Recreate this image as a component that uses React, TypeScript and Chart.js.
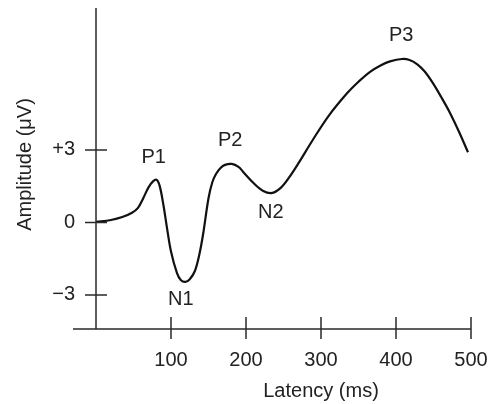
import React, { useEffect, useRef } from "react";
import { Chart, registerables } from "chart.js";

Chart.register(...registerables);

// Latency (ms) and amplitude (µV) of the ERP waveform
const latency = [0, 20, 35, 48, 56, 63, 70, 76, 81, 85, 90, 95, 100, 108, 113, 119, 125, 132, 138, 143, 150, 155, 160, 166, 172, 181, 190, 196, 210, 223, 235, 247, 258, 270, 289, 310, 335, 350, 365, 380, 392, 408, 418, 428, 438, 449, 460, 472, 484, 496];
const amplitude = [0.02, 0.1, 0.22, 0.4, 0.6, 1.0, 1.45, 1.7, 1.76, 1.5, 0.7, -0.3, -1.2, -2.1, -2.38, -2.46, -2.35, -2.0, -1.3, -0.45, 1.0, 1.65, 2.0, 2.25, 2.38, 2.42, 2.3, 2.1, 1.63, 1.3, 1.22, 1.45, 1.88, 2.45, 3.41, 4.4, 5.35, 5.82, 6.22, 6.5, 6.66, 6.76, 6.72, 6.55, 6.25, 5.77, 5.2, 4.53, 3.75, 2.9];

const xTicks = [100, 200, 300, 400, 500];
const yTicks = [-3, 0, 3];
const yTickLabels = ["\u22123", "0", "+3"];

// Component labels and the data coordinates where they are written
const peakNames = ["P1", "N1", "P2", "N2", "P3"];
const peakLabelLatency = [77, 113, 179, 233, 407];
const peakLabelAmplitude = [2.69, -3.2, 3.39, 0.39, 7.72];

const xTitle = "Latency (ms)";
const yTitle = "Amplitude (\u03BCV)";

const FONT = "'Liberation Sans', Arial, Helvetica, sans-serif";
const TEXT = "#222";
const AXIS = "#2a2a2a";

const axesPlugin = {
  id: "erpAxes",
  afterDatasetsDraw(chart: any) {
    const ctx = chart.ctx;
    const xs = chart.scales.x;
    const ys = chart.scales.y;
    const x0 = xs.getPixelForValue(0);
    const yb = ys.bottom;
    ctx.save();
    ctx.strokeStyle = AXIS;
    ctx.lineWidth = 1.5;
    ctx.beginPath();
    ctx.moveTo(x0, ys.top);
    ctx.lineTo(x0, yb);
    ctx.moveTo(x0 - 23, yb);
    ctx.lineTo(xs.getPixelForValue(500), yb);
    for (const v of yTicks) {
      const py = ys.getPixelForValue(v);
      ctx.moveTo(x0 - 11, py);
      ctx.lineTo(x0 + 11, py);
    }
    for (const v of xTicks) {
      const px = xs.getPixelForValue(v);
      ctx.moveTo(px, yb - 12);
      ctx.lineTo(px, yb + 10);
    }
    ctx.stroke();

    ctx.fillStyle = TEXT;
    ctx.font = `20px ${FONT}`;
    ctx.textAlign = "center";
    ctx.textBaseline = "middle";
    peakNames.forEach((n, i) => {
      ctx.fillText(n, xs.getPixelForValue(peakLabelLatency[i]), ys.getPixelForValue(peakLabelAmplitude[i]));
    });

    // axis titles
    ctx.fillText(xTitle, xs.getPixelForValue(300), 391);
    ctx.save();
    ctx.translate(25, (ys.top + ys.bottom) / 2 - 4);
    ctx.rotate(-Math.PI / 2);
    ctx.fillText(yTitle, 0, 0);
    ctx.restore();
    ctx.restore();
  },
};

export default function App() {
  const ref = useRef<HTMLCanvasElement | null>(null);
  useEffect(() => {
    if (!ref.current) return;
    const chart = new Chart(ref.current, {
      type: "line",
      data: {
        datasets: [
          {
            data: latency.map((x, i) => ({ x, y: amplitude[i] })),
            borderColor: "#111",
            borderWidth: 2.2,
            pointRadius: 0,
            fill: false,
            tension: 0.35,
          },
        ],
      },
      options: {
        animation: false,
        responsive: true,
        maintainAspectRatio: false,
        layout: { padding: { top: 8, right: 20, left: 0, bottom: 0 } },
        plugins: { legend: { display: false }, tooltip: { enabled: false } },
        scales: {
          x: {
            type: "linear",
            min: 0,
            max: 500,
            afterBuildTicks: (s: any) => {
              s.ticks = xTicks.map((v) => ({ value: v }));
            },
            afterFit: (s: any) => {
              s.height = 75;
              s.paddingLeft = 0;
              s.paddingRight = 0;
            },
            grid: { display: false, drawTicks: false },
            border: { display: false },
            ticks: {
              color: TEXT,
              font: { family: FONT, size: 20 },
              padding: 19,
              maxRotation: 0,
              autoSkip: false,
            },
          },
          y: {
            type: "linear",
            min: -4.41,
            max: 8.87,
            afterBuildTicks: (s: any) => {
              s.ticks = yTicks.map((v) => ({ value: v }));
            },
            afterFit: (s: any) => {
              s.width = 96;
              s.paddingTop = 0;
              s.paddingBottom = 0;
            },
            grid: { display: false, drawTicks: false },
            border: { display: false },
            ticks: {
              color: TEXT,
              font: { family: FONT, size: 20 },
              padding: 21,
              autoSkip: false,
              callback: (v: any) => {
                const i = yTicks.indexOf(Number(v));
                return i >= 0 ? yTickLabels[i] : "";
              },
            },
          },
        },
      },
      plugins: [axesPlugin],
    } as any);
    return () => chart.destroy();
  }, []);
  return (
    <div style={{ position: "fixed", left: 0, top: 0, width: 491, height: 404, background: "#fff" }}>
      <canvas ref={ref} />
    </div>
  );
}
